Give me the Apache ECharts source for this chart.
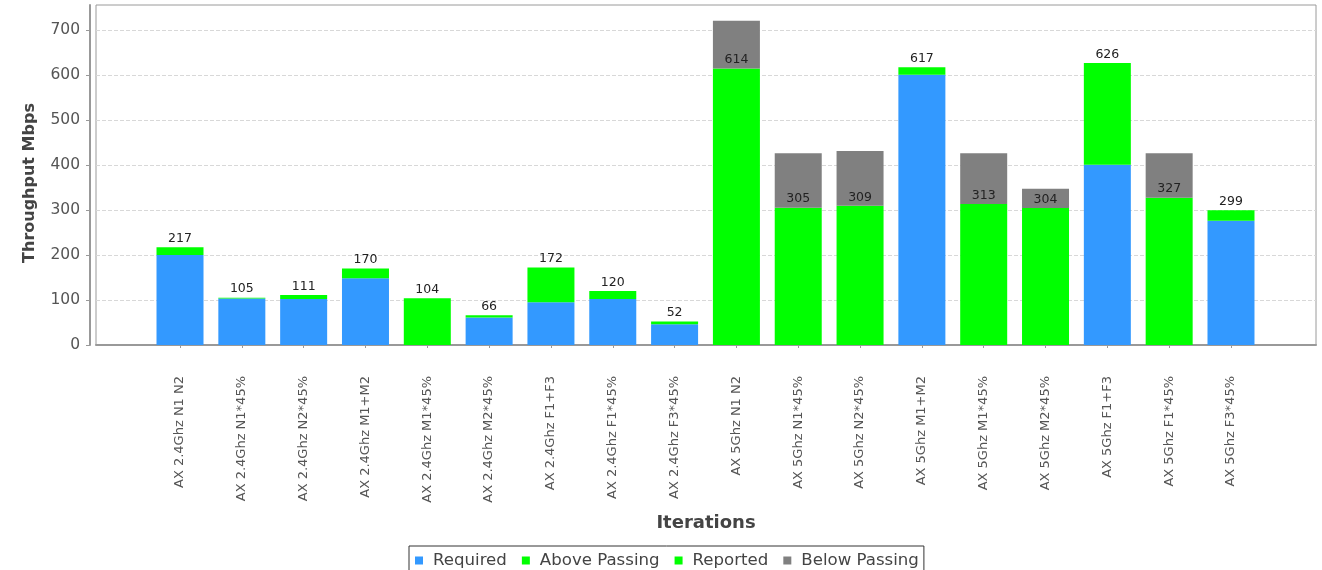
<!DOCTYPE html>
<html>
<head>
<meta charset="utf-8">
<style>
  html, body { margin: 0; padding: 0; background: #fff; }
  #chart { width: 1322px; height: 570px; }
</style>
<script src="https://cdn.jsdelivr.net/npm/echarts@6/dist/echarts.min.js"></script>
</head>
<body>
<div id="chart"></div>
<script>
const categories = [
  'AX 2.4Ghz N1 N2', 'AX 2.4Ghz N1*45%', 'AX 2.4Ghz N2*45%', 'AX 2.4Ghz M1+M2',
  'AX 2.4Ghz M1*45%', 'AX 2.4Ghz M2*45%', 'AX 2.4Ghz F1+F3', 'AX 2.4Ghz F1*45%',
  'AX 2.4Ghz F3*45%', 'AX 5Ghz N1 N2', 'AX 5Ghz N1*45%', 'AX 5Ghz N2*45%',
  'AX 5Ghz M1+M2', 'AX 5Ghz M1*45%', 'AX 5Ghz M2*45%', 'AX 5Ghz F1+F3',
  'AX 5Ghz F1*45%', 'AX 5Ghz F3*45%'
];
const required = [200, 103, 102, 148, 0, 61, 95, 102, 46, 720, 426, 431, 600, 426, 347, 400, 426, 276];
const reported = [217, 105, 111, 170, 104, 66, 172, 120, 52, 614, 305, 309, 617, 313, 304, 626, 327, 299];
const yTicks = [0, 100, 200, 300, 400, 500, 600, 700];
const seriesNames = ['Required', 'Above Passing', 'Reported', 'Below Passing'];
const yMax = 755;

const C_BLUE = '#3399FF', C_GREEN = '#00FF00', C_GRAY = '#808080';

const pass = reported.map((r, i) => r >= required[i]);
const labelCfg = (show, txt) => ({
  show: show, position: 'top', distance: 2, formatter: String(txt),
  color: '#222', fontSize: 12.5, fontFamily: 'DejaVu Sans'
});
const requiredData = required.map((v, i) => pass[i] ? v : 0);
const aboveData = reported.map((r, i) => ({
  value: pass[i] ? r - required[i] : 0,
  label: labelCfg(pass[i], r)
}));
const reportedData = reported.map((r, i) => ({
  value: pass[i] ? 0 : r,
  label: labelCfg(!pass[i], r)
}));
const belowData = reported.map((r, i) => pass[i] ? 0 : required[i] - r);

const font = 'DejaVu Sans';
const barW = 47;

const option = {
  animation: false,
  backgroundColor: '#fff',
  grid: [
    { left: 96, top: 5, right: 6, bottom: 225, show: true, borderColor: '#9a9a9a', borderWidth: 1, outerBoundsMode: 'none' },
    { left: 149.1, top: 5, right: 60.1, bottom: 225, outerBoundsMode: 'none' }
  ],
  legend: {
    data: seriesNames,
    left: 409, top: 546,
    orient: 'horizontal',
    itemWidth: 8, itemHeight: 8, itemGap: 15,
    icon: 'rect',
    padding: [6, 5, 6, 6],
    borderColor: '#333', borderWidth: 1,
    textStyle: { fontFamily: font, fontSize: 16.6, color: '#444', padding: [0, 0, 0, 5] }
  },
  xAxis: [
    {
      gridIndex: 0, type: 'category', data: categories, offset: 6,
      axisLine: { show: true, lineStyle: { color: '#999', width: 2 } },
      axisTick: { show: false }, axisLabel: { show: false }, splitLine: { show: false },
      name: 'Iterations', nameLocation: 'middle', nameGap: 163,
      nameTextStyle: { fontFamily: font, fontSize: 18, fontWeight: 'bold', color: '#444' }
    },
    {
      gridIndex: 1, type: 'category', data: categories, offset: 6,
      axisLine: { show: false },
      axisTick: { show: true, length: 3, alignWithLabel: true, lineStyle: { color: '#999' } },
      axisLabel: { rotate: 90, margin: 25, interval: 0, fontFamily: font, fontSize: 13, color: '#555' },
      splitLine: { show: false }
    }
  ],
  yAxis: [
    {
      gridIndex: 0, type: 'value', min: 0, max: yMax, interval: 100, offset: 6,
      axisLine: { show: true, lineStyle: { color: '#999', width: 2 } },
      axisTick: { show: true, length: 4, customValues: yTicks, lineStyle: { color: '#999' } },
      axisLabel: { customValues: yTicks, margin: 10, fontFamily: font, fontSize: 15.5, color: '#555' },
      splitLine: { show: true, lineStyle: { color: '#d8d8d8', type: [4, 2], width: 1 } },
      name: 'Throughput Mbps', nameLocation: 'middle', nameGap: 52,
      nameTextStyle: { fontFamily: font, fontSize: 16, fontWeight: 'bold', color: '#444', padding: [0, 16, 0, 0] }
    },
    {
      gridIndex: 1, type: 'value', min: 0, max: yMax, show: false,
      splitLine: { show: false }
    }
  ],
  series: [
    { name: 'Required', type: 'bar', stack: 'a', xAxisIndex: 1, yAxisIndex: 1, barWidth: barW,
      itemStyle: { color: C_BLUE }, data: requiredData },
    { name: 'Reported', type: 'bar', stack: 'a', xAxisIndex: 1, yAxisIndex: 1, barWidth: barW,
      itemStyle: { color: C_GREEN }, data: reportedData },
    { name: 'Above Passing', type: 'bar', stack: 'a', xAxisIndex: 1, yAxisIndex: 1, barWidth: barW,
      itemStyle: { color: C_GREEN }, data: aboveData },
    { name: 'Below Passing', type: 'bar', stack: 'a', xAxisIndex: 1, yAxisIndex: 1, barWidth: barW,
      itemStyle: { color: C_GRAY }, data: belowData }
  ]
};

const chart = echarts.init(document.getElementById('chart'));
chart.setOption(option);
</script>
</body>
</html>
